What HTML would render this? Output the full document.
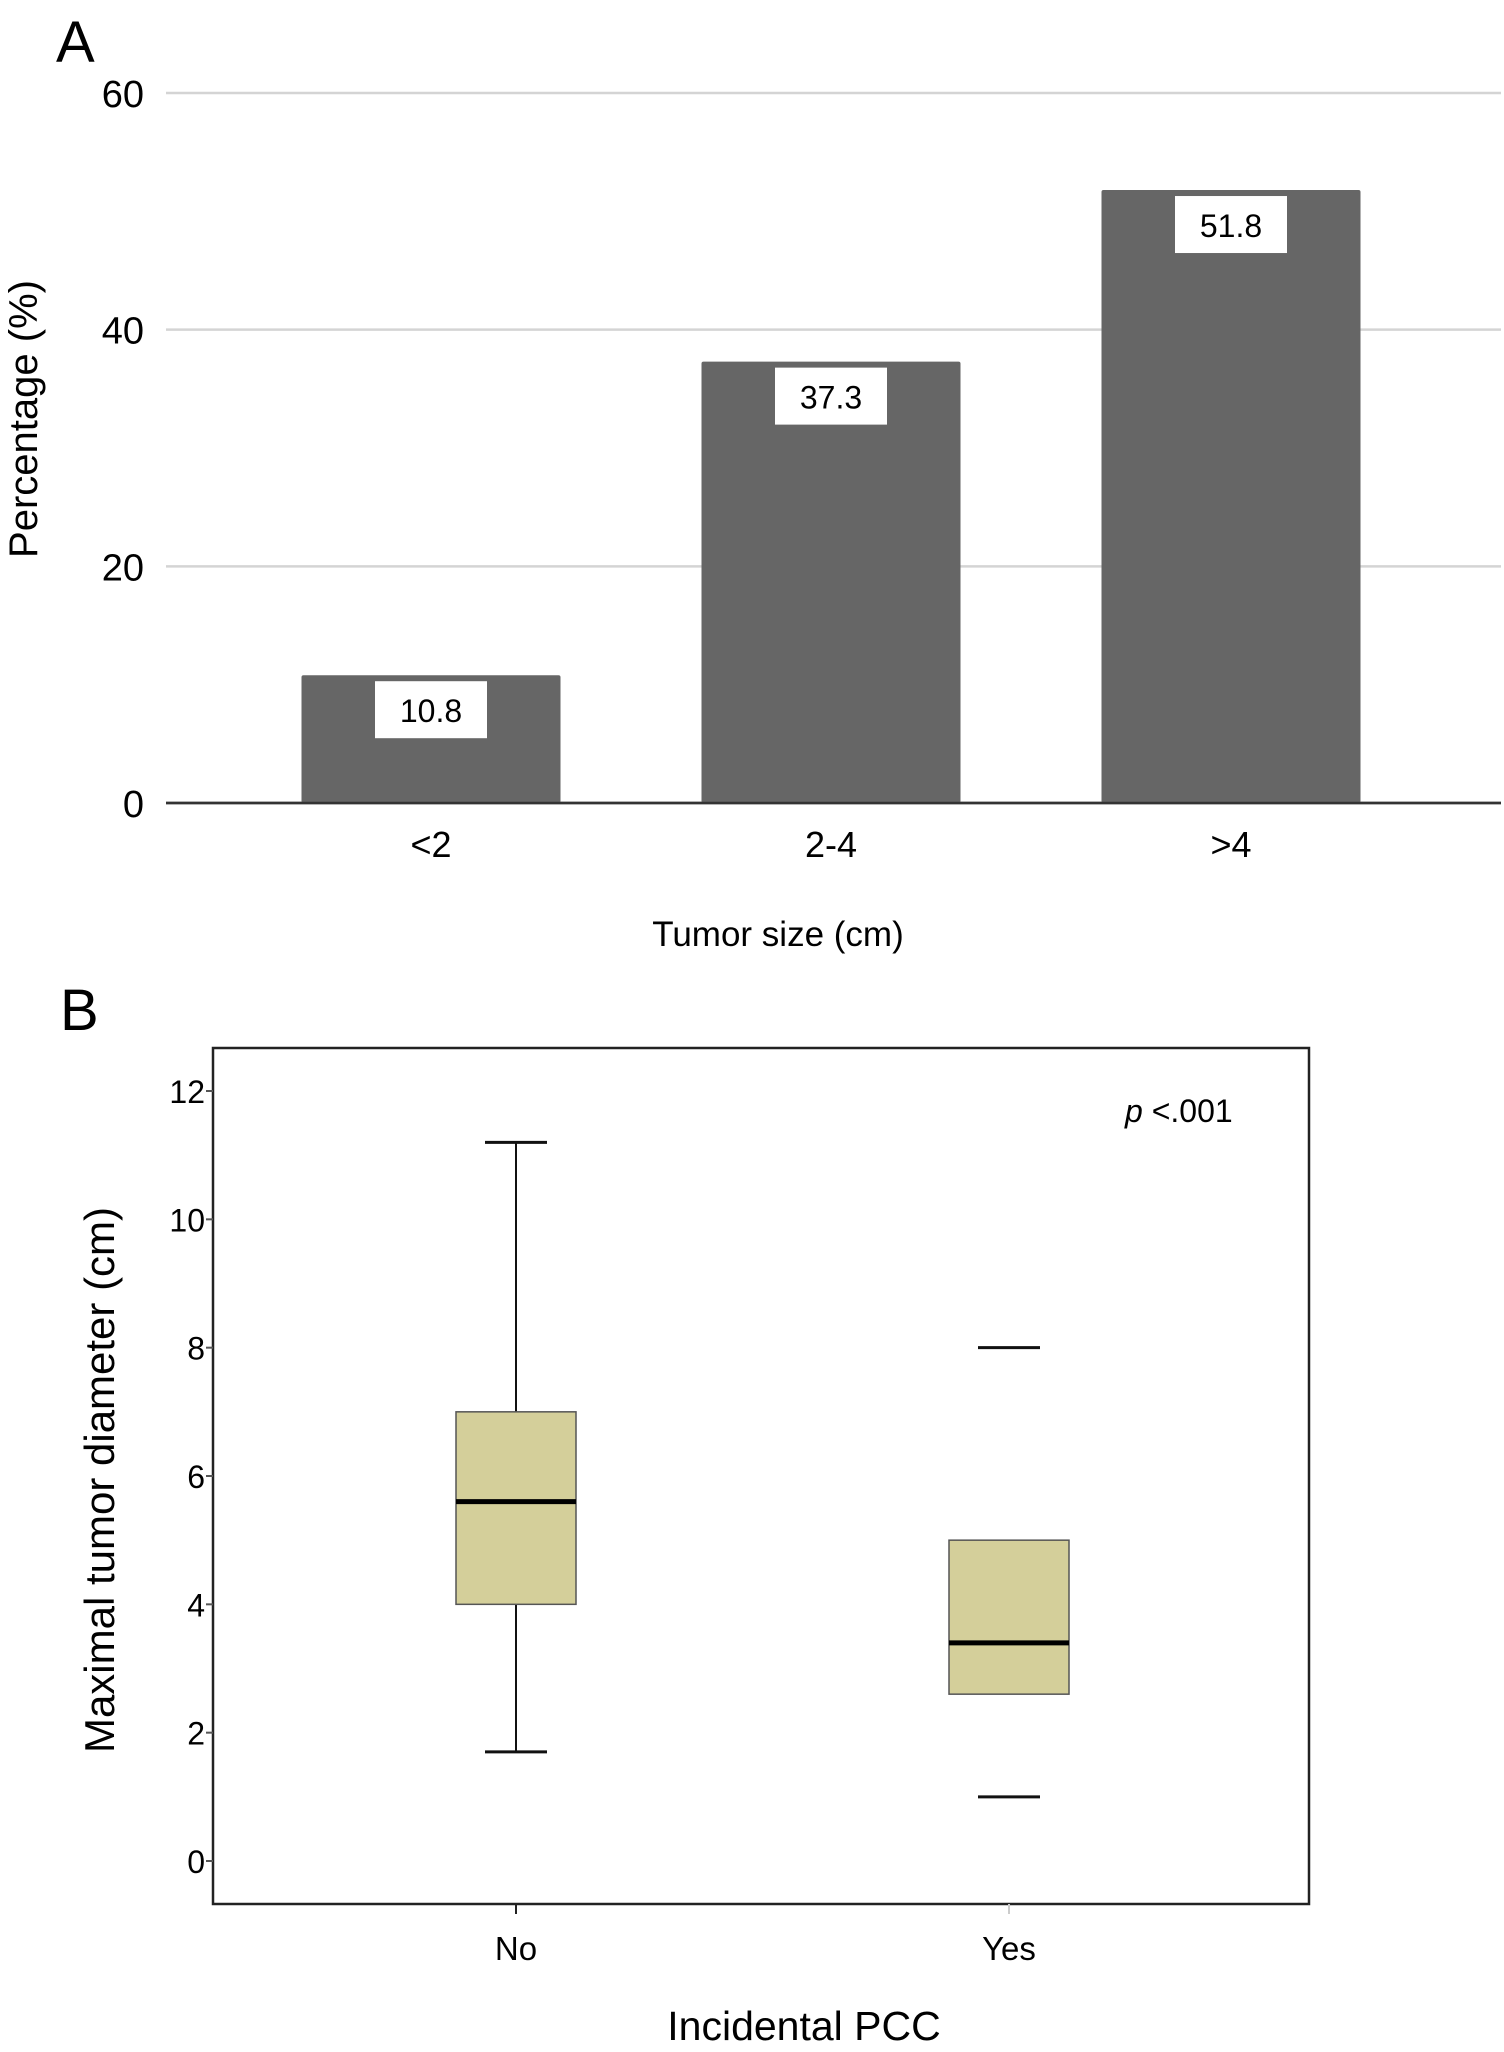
<!DOCTYPE html>
<html><head><meta charset="utf-8"><style>
body{margin:0;background:#fff;}
svg{display:block;font-family:"Liberation Sans",Arial,sans-serif;}
</style></head><body>
<svg id="fig" width="1504" height="2052" viewBox="0 0 1504 2052">
<text x="56" y="62" font-size="58">A</text>
<g id="chartA"></g>
<text x="60" y="1030" font-size="58">B</text>
<g id="chartB"></g>
</svg>
<script>
const catsA = ["<2","2-4",">4"];
const valsA = [10.8,37.3,51.8];
const ticksA = [0,20,40,60];
const catsB = ["No","Yes"];
const q1B = [4.0,2.6];
const medB = [5.6,3.4];
const q3B = [7.0,5.0];
const loB = [1.7,1.0];
const hiB = [11.2,8.0];
const whiskerLineB = [true,false];
const ticksB = [0,2,4,6,8,10,12];
const NS="http://www.w3.org/2000/svg";
function mk(tag,attrs,parent,text){const e=document.createElementNS(NS,tag);for(const k in attrs)e.setAttribute(k,attrs[k]);if(text!==undefined)e.textContent=text;parent.appendChild(e);return e;}
// Chart A
const gA=document.getElementById('chartA');
const yA=v=>803-(803-93)*v/60;
const xA=i=>431+i*400;
ticksA.forEach(t=>{
 const l=mk('line',{x1:166,x2:1501,y1:yA(t),y2:yA(t),stroke:t===0?'#333':'#d4d4d4','stroke-width':2.5},gA);
 
 const tx=mk('text',{x:144,y:yA(t)+14,'font-size':38,'text-anchor':'end'},gA,String(t));
 
});
valsA.forEach((v,i)=>{
 const r=mk('rect',{x:xA(i)-129.5,y:yA(v),width:259,height:803-yA(v),fill:'#666',rx:2},gA);
 
 const b=mk('rect',{x:xA(i)-56,y:yA(v)+6,width:112,height:57,fill:'#fff'},gA);
 
 const t=mk('text',{x:xA(i),y:yA(v)+47,'font-size':32,'text-anchor':'middle'},gA,v.toFixed(1));
 
 const c=mk('text',{x:xA(i),y:857,'font-size':36,'text-anchor':'middle'},gA,catsA[i]);
 
});
mk('line',{x1:166,x2:1501,y1:803,y2:803,stroke:'#333','stroke-width':2.5},gA);
let t1=mk('text',{x:778,y:946,'font-size':35,'text-anchor':'middle'},gA,'Tumor size (cm)');

let t2=mk('text',{x:0,y:0,'font-size':40,'text-anchor':'middle',transform:'translate(37,419) rotate(-90)'},gA,'Percentage (%)');

// Chart B
const gB=document.getElementById('chartB');
const yB=v=>1861-v*(1861-1091)/12;
const xB=i=>516+i*493;
const fr=mk('rect',{x:213,y:1048,width:1096,height:856,fill:'none',stroke:'#222','stroke-width':2.5},gB);

ticksB.forEach(t=>{
 mk('line',{x1:206,x2:213,y1:yB(t),y2:yB(t),stroke:'#555','stroke-width':2},gB);
 const tx=mk('text',{x:205,y:yB(t)+12,'font-size':32,'text-anchor':'end'},gB,String(t));
 
});
catsB.forEach((c,i)=>{
 const x=xB(i);
 mk('line',{x1:x,x2:x,y1:1904,y2:1914,stroke:i===0?'#222':'#ccc','stroke-width':2},gB);
 const tl=mk('text',{x:x,y:1960,'font-size':33,'text-anchor':'middle'},gB,c);
 
 if(whiskerLineB[i]){
  mk('line',{x1:x,x2:x,y1:yB(hiB[i]),y2:yB(q3B[i]),stroke:'#111','stroke-width':2},gB);
  mk('line',{x1:x,x2:x,y1:yB(q1B[i]),y2:yB(loB[i]),stroke:'#111','stroke-width':2},gB);
 }
 const hc=mk('line',{x1:x-31,x2:x+31,y1:yB(hiB[i]),y2:yB(hiB[i]),stroke:'#111','stroke-width':3},gB);
 
 const lc=mk('line',{x1:x-31,x2:x+31,y1:yB(loB[i]),y2:yB(loB[i]),stroke:'#111','stroke-width':3},gB);
 
 const bx=mk('rect',{x:x-60,y:yB(q3B[i]),width:120,height:yB(q1B[i])-yB(q3B[i]),fill:'#d4cf9a',stroke:'#555','stroke-width':1.5},gB);
 
 const md=mk('line',{x1:x-60,x2:x+60,y1:yB(medB[i]),y2:yB(medB[i]),stroke:'#000','stroke-width':5},gB);
 
});
const pv=mk('text',{x:1125,y:1122,'font-size':32},gB);
pv.innerHTML='<tspan font-style="italic">p</tspan> &lt;.001';

let t3=mk('text',{x:804,y:2040,'font-size':41,'text-anchor':'middle'},gB,'Incidental PCC');

let t4=mk('text',{x:0,y:0,'font-size':42,'text-anchor':'middle',transform:'translate(114,1480) rotate(-90)'},gB,'Maximal tumor diameter (cm)');

</script>
</body></html>
